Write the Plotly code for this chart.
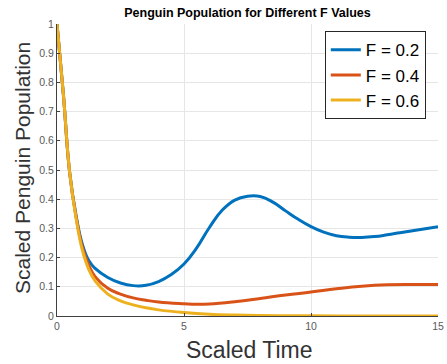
import plotly.graph_objects as go

# ---- data ----
t_f02 = [0, 0.25, 0.5, 0.75, 1.0, 1.25, 1.5, 2.0, 2.5, 3.0, 3.5, 4.0, 4.5, 5.0, 5.5, 6.0,
         6.5, 7.0, 7.5, 8.0, 8.5, 9.0, 9.5, 10.0, 10.5, 11.0, 11.5, 12.0, 12.5, 13.0, 13.5,
         14.0, 14.5, 15.0]
v_f02 = [1.0, 0.76, 0.49, 0.345, 0.245, 0.19, 0.163, 0.132, 0.113, 0.104, 0.105, 0.118, 0.142,
         0.178, 0.233, 0.303, 0.362, 0.397, 0.41, 0.409, 0.39, 0.36, 0.331, 0.306, 0.287, 0.275,
         0.27, 0.269, 0.272, 0.278, 0.285, 0.292, 0.299, 0.306]

t_f04 = [0, 0.25, 0.5, 0.75, 1.0, 1.25, 1.5, 2.0, 2.5, 3.0, 3.5, 4.0, 5.0, 5.5, 6.0, 7.0,
         8.0, 9.0, 10.0, 11.0, 12.0, 13.0, 14.0, 15.0]
v_f04 = [1.0, 0.76, 0.49, 0.34, 0.235, 0.175, 0.135, 0.095, 0.075, 0.062, 0.054, 0.048, 0.042,
         0.040, 0.041, 0.049, 0.060, 0.072, 0.082, 0.093, 0.102, 0.107, 0.108, 0.108]

t_f06 = [0, 0.25, 0.5, 0.75, 1.0, 1.25, 1.5, 2.0, 2.5, 3.0, 3.5, 4.0, 5.0, 6.0, 7.0, 8.0,
         10.0, 12.5, 15.0]
v_f06 = [1.0, 0.76, 0.49, 0.335, 0.225, 0.16, 0.12, 0.075, 0.052, 0.038, 0.028, 0.021, 0.012,
         0.006, 0.003, 0.0015, 0.0005, 0.0, 0.0]

series_names = ["F = 0.2", "F = 0.4", "F = 0.6"]
series_colors = ["#0072BD", "#D95319", "#EDB120"]

x_ticks = [0, 5, 10, 15]
y_ticks = [0, 0.1, 0.2, 0.3, 0.4, 0.5, 0.6, 0.7, 0.8, 0.9, 1]
y_tick_text = ["0", "0.1", "0.2", "0.3", "0.4", "0.5", "0.6", "0.7", "0.8", "0.9", "1"]

title_text = "Penguin Population for Different F Values"
x_title = "Scaled Time"
y_title = "Scaled Penguin Population"

FONT = "Liberation Sans, Arial, sans-serif"

fig = go.Figure()
for t, v, name, col in zip([t_f02, t_f04, t_f06], [v_f02, v_f04, v_f06], series_names, series_colors):
    fig.add_trace(go.Scatter(x=t, y=v, mode="lines", name=name,
                             line=dict(color=col, width=3, shape="spline", smoothing=1.3)))

fig.update_layout(
    width=447, height=364,
    margin=dict(l=57, r=9, t=24, b=48),
    paper_bgcolor="white", plot_bgcolor="white",
    font=dict(family=FONT, color="#262626"),
    title=dict(text="<b>" + title_text + "</b>",
               font=dict(family=FONT, size=12.5, color="#000000"),
               x=247.5 / 447, xanchor="center", y=1 - 13 / 364, yanchor="middle"),
    legend=dict(x=0.968, xanchor="right", y=0.975, yanchor="top",
                bgcolor="white", bordercolor="#262626", borderwidth=1,
                font=dict(family=FONT, size=17, color="#000000"),
                tracegroupgap=0, itemwidth=30),
    showlegend=True,
    annotations=[
        dict(text=x_title, xref="paper", yref="paper", x=(249 - 57) / 381, y=(316 - 350) / 292,
             xanchor="center", yanchor="middle", showarrow=False,
             font=dict(family=FONT, size=23, color="#333333")),
        dict(text=y_title, xref="paper", yref="paper", x=(22 - 57) / 381, y=(316 - 168) / 292,
             xanchor="center", yanchor="middle", showarrow=False, textangle=-90,
             font=dict(family=FONT, size=21, color="#333333")),
    ],
)

fig.update_xaxes(range=[0, 15], tickvals=x_ticks, ticktext=[str(v) for v in x_ticks],
                 showgrid=True, gridcolor="#e6e6e6", gridwidth=1, zeroline=False,
                 showline=True, linecolor="#404040", linewidth=1, automargin=False,
                 ticks="inside", ticklen=3, tickcolor="#404040",
                 tickfont=dict(family=FONT, size=10.5, color="#5a5a5a"))
fig.update_yaxes(range=[0, 1], tickvals=y_ticks, ticktext=y_tick_text,
                 showgrid=True, gridcolor="#e6e6e6", gridwidth=1, zeroline=False,
                 showline=True, linecolor="#404040", linewidth=1, automargin=False,
                 ticks="inside", ticklen=3, tickcolor="#404040",
                 tickfont=dict(family=FONT, size=10.5, color="#5a5a5a"))

fig.write_html("out.html")
